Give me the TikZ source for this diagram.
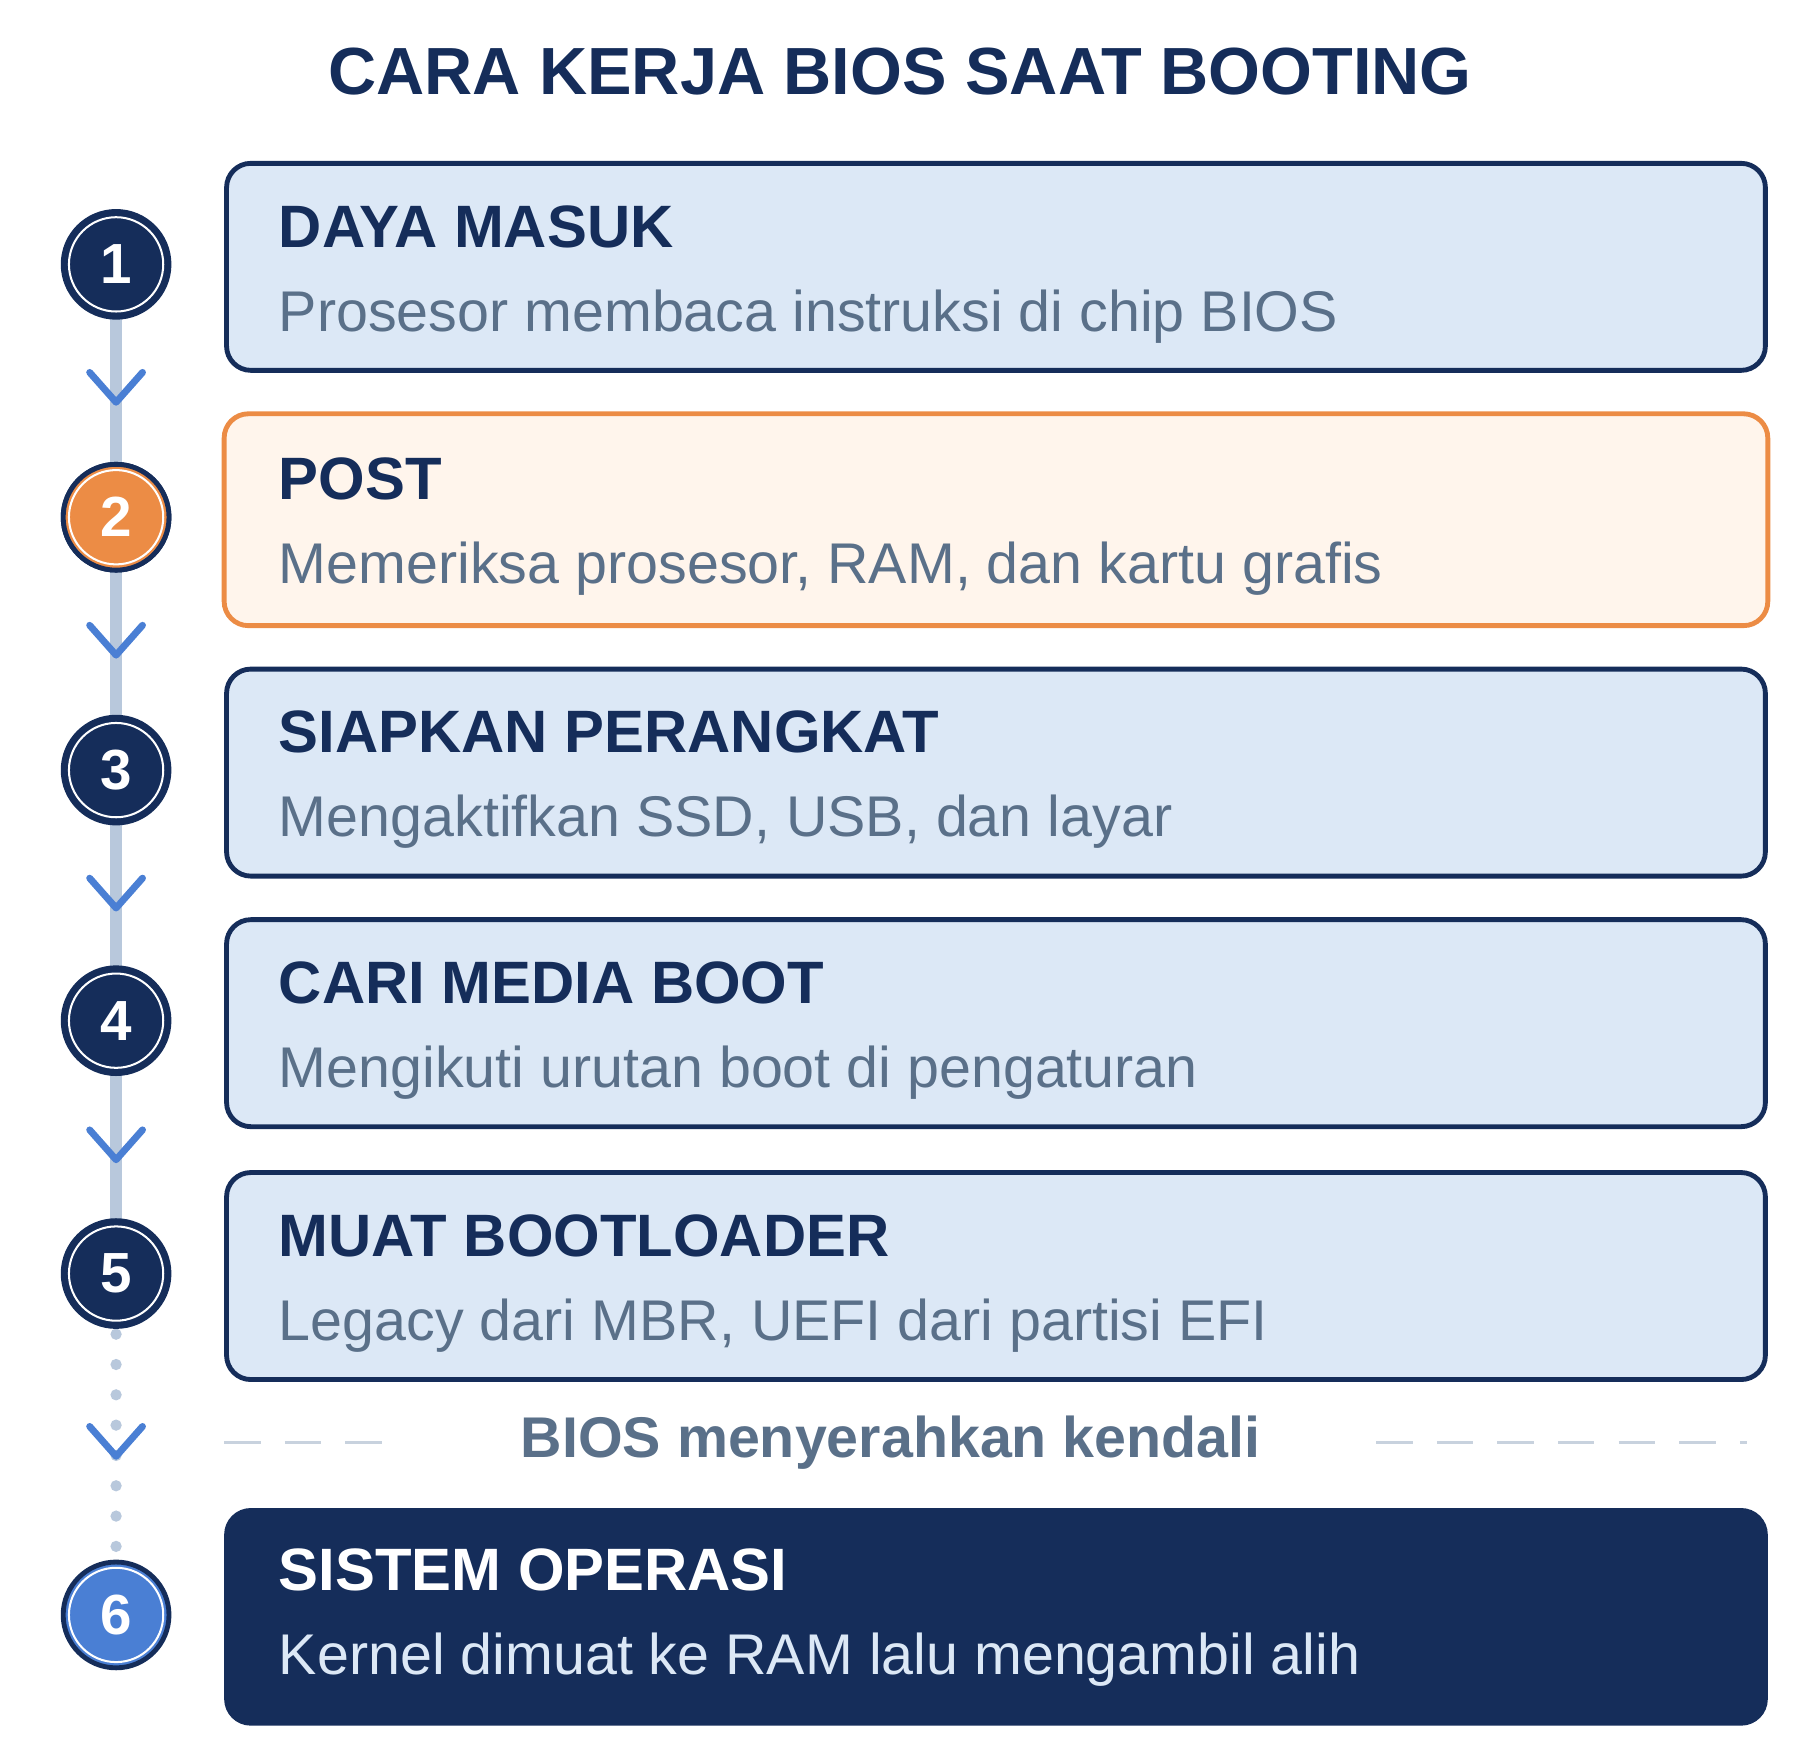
\documentclass[tikz,border=0pt]{standalone}
\usepackage{fontspec}
\setmainfont{Liberation Sans}
\usetikzlibrary{positioning}
\definecolor{navy}{HTML}{152D5A}
\definecolor{boxfill}{HTML}{DCE8F6}
\definecolor{subtext}{HTML}{5A7089}
\definecolor{orng}{HTML}{EC8C45}
\definecolor{orngfill}{HTML}{FFF5EC}
\definecolor{chev}{HTML}{4A7FD4}
\definecolor{rail}{HTML}{B8C8DC}
\definecolor{dashc}{HTML}{C8D2DE}
\begin{document}
\begin{tikzpicture}[x=0.01cm,y=0.01cm,
stepbox/.style={draw=navy,line width=1.2pt,fill=boxfill,rounded corners=6pt,
 minimum width=13.38cm,minimum height=1.8cm,anchor=north west},
head/.style={anchor=base west,font=\bfseries\fontsize{14.8}{16}\selectfont,text=navy,inner sep=0pt},
sub/.style={anchor=base west,font=\fontsize{14.2}{16}\selectfont,text=subtext,inner sep=0pt},
num/.style={circle,draw=navy,line width=1.2pt,fill=navy,minimum size=0.92cm,inner sep=0pt,
 text=white,font=\bfseries\fontsize{14}{16}\selectfont,
 path picture={\draw[white,line width=0.5pt] (path picture bounding box.center) circle (0.41cm);}},
chevron/.style={chev,line width=1.7pt,line cap=round,line join=round}]
\useasboundingbox (0,0) rectangle (1566,-1531);
\node[font=\bfseries\fontsize{16.5}{18}\selectfont,text=navy] (title) at (783,-62) {CARA KERJA BIOS SAAT BOOTING};
% rail behind the circles
\coordinate (r1) at (101,-230);
\coordinate (r5) at (101,-1108);
\coordinate (r6) at (101,-1405);
\draw[rail,line width=2.8pt] (r1) -- (r5);
\draw[rail,line width=2.8pt,line cap=round,dash pattern=on 0pt off 7.5pt] (r5) -- (r6);
% steps
\foreach \i/\y/\h/\s in {1/140/DAYA MASUK/Prosesor membaca instruksi di chip BIOS,
 2/360/POST/{Memeriksa prosesor, RAM, dan kartu grafis},
 3/580/SIAPKAN PERANGKAT/{Mengaktifkan SSD, USB, dan layar},
 4/798/CARI MEDIA BOOT/Mengikuti urutan boot di pengaturan,
 5/1018/MUAT BOOTLOADER/{Legacy dari MBR, UEFI dari partisi EFI}}
 {\node[stepbox] (b\i) at (195,-\y) {};
 \node[head] (h\i) at ([shift={(47,-75)}]b\i.north west) {\h};
 \node[sub] (s\i) at ([shift={(47,-148)}]b\i.north west) {\s};
 \node[num] (c\i) at (101,-\y-90) {\i};}
\path[draw=orng,fill=orngfill,line width=1.2pt,rounded corners=6pt] (b2.south west) rectangle (b2.north east);
\node[head] at (h2.base west) {POST};
\node[sub] at (s2.base west) {Memeriksa prosesor, RAM, dan kartu grafis};
\node[num,fill=orng] at (c2) {2};
% handover line
\node[font=\bfseries\fontsize{14.2}{16}\selectfont,text=subtext] (hand) at (775,-1255) {BIOS menyerahkan kendali};
\coordinate (dl) at (195,-1255);
\coordinate (dr) at (1520,-1255);
\draw[dashc,line width=0.8pt,dash pattern=on 9pt off 6pt] (dl) -- ([xshift=-30]hand.west);
\draw[dashc,line width=0.8pt,dash pattern=on 9pt off 6pt] ([xshift=25]hand.east) -- (dr);
% final step
\node[stepbox,fill=navy,minimum height=1.85cm] (b6) at (195,-1312) {};
\node[head,text=white] (h6) at ([shift={(47,-72)}]b6.north west) {SISTEM OPERASI};
\node[sub,text=boxfill] (s6) at ([shift={(47,-145)}]b6.north west) {Kernel dimuat ke RAM lalu mengambil alih};
\node[num,fill=chev] (c6) at (r6) {6};
% chevrons
\foreach \y in {338,558,778,997,1255}
 \draw[chevron] (78,-\y+14) -- (101,-\y-12) -- (124,-\y+14);
\end{tikzpicture}
\end{document}
